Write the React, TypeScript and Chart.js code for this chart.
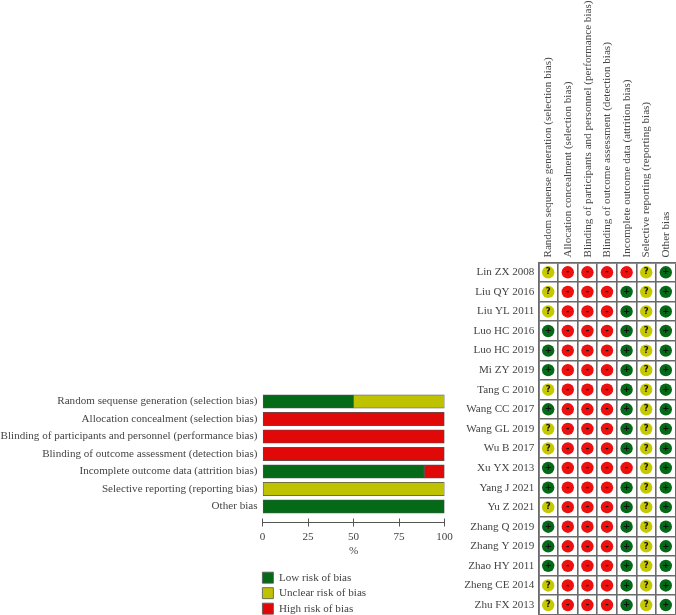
import React, { useEffect, useRef } from "react";
import { Chart, registerables } from "chart.js";

Chart.register(...registerables);

const domainLabels = [
  "Random sequense generation (selection bias)",
  "Allocation concealment (selection bias)",
  "Blinding of participants and personnel (performance bias)",
  "Blinding of outcome assessment (detection bias)",
  "Incomplete outcome data (attrition bias)",
  "Selective reporting (reporting bias)",
  "Other bias",
];
const lowRisk = [50, 0, 0, 0, 88.9, 0, 100];
const unclearRisk = [50, 0, 0, 0, 0, 100, 0];
const highRisk = [0, 100, 100, 100, 11.1, 0, 0];
const xTicks = [0, 25, 50, 75, 100];
const studies = [
  "Lin ZX 2008", "Liu QY 2016", "Liu YL 2011", "Luo HC 2016", "Luo HC 2019", "Mi ZY 2019",
  "Tang C 2010", "Wang CC 2017", "Wang GL 2019", "Wu B 2017", "Xu YX 2013", "Yang J 2021",
  "Yu Z 2021", "Zhang Q 2019", "Zhang Y 2019", "Zhao HY 2011", "Zheng CE 2014", "Zhu FX 2013",
];
// one string per study, one symbol per domain
const ratings = [
  "?----?+", "?---+?+", "?---+?+", "+---+?+", "+---+?+", "+---+?+",
  "?---+?+", "+---+?+", "?---+?+", "?---+?+", "+----?+", "+---+?+",
  "?---+?+", "+---+?+", "+---+?+", "+---+?+", "?---+?+", "?---+?+",
];

const FONT = "'Liberation Serif'";
const TEXT = "#444444";
const GREEN = "#056a17";
const YELLOW = "#bfc200";
const RED = "#e10808";
const DOT_RED = "#ee0f0f";
const DOT_YELLOW = "#c6c800";
const LINE = "#555555";
const GRID = "#6a6a6a";

const AXIS_AT = 6.886;

function pointsFor(symbol: string) {
  const out: { x: string; y: string }[] = [];
  ratings.forEach((row, r) => {
    row.split("").forEach((s, c) => {
      if (s === symbol) out.push({ x: domainLabels[c], y: studies[r] });
    });
  });
  return out;
}

const placeLegend = {
  id: "placeLegend",
  afterLayout(chart: any) {
    const l = chart.legend;
    if (!l) return;
    const w = l.width;
    const h = l.height;
    l.left = 258;
    l.top = 567.7;
    l.right = l.left + w;
    l.bottom = l.top + h;
    l.adjustHitBoxes();
  },
};

const glyphs = {
  id: "glyphs",
  afterDatasetsDraw(chart: any) {
    const ctx = chart.ctx;
    ctx.save();
    ctx.fillStyle = "#111";
    ctx.textAlign = "center";
    ctx.textBaseline = "middle";
    ctx.font = "bold 8.5px 'DejaVu Sans'";
    chart.data.datasets.forEach((ds: any, i: number) => {
      chart.getDatasetMeta(i).data.forEach((el: any) => {
        ctx.fillText(ds.label, el.x, el.y);
      });
    });
    ctx.restore();
  },
};

export default function App() {
  const barRef = useRef<HTMLCanvasElement>(null);
  const gridRef = useRef<HTMLCanvasElement>(null);

  useEffect(() => {
    const font = { family: FONT, size: 11.1 };
    const barChart = new Chart(barRef.current as HTMLCanvasElement, {
      type: "bar",
      plugins: [placeLegend],
      data: {
        labels: domainLabels,
        datasets: [
          { label: "Low risk of bias", data: lowRisk, backgroundColor: GREEN },
          { label: "Unclear risk of bias", data: unclearRisk, backgroundColor: YELLOW },
          { label: "High risk of bias", data: highRisk, backgroundColor: RED },
        ].map((d) => ({ ...d, borderColor: LINE, borderWidth: 0.8, barThickness: 13.5, borderSkipped: false })),
      },
      options: {
        indexAxis: "y",
        responsive: false,
        animation: false,
        layout: { autoPadding: false, padding: { left: 0, right: 231.5, top: 392.75, bottom: 99.75 } },
        plugins: {
          tooltip: { enabled: false },
          legend: {
            position: "chartArea",
            align: "start",
            labels: { boxWidth: 11, boxHeight: 11, padding: 4.4, color: TEXT, font },
          },
        },
        scales: {
          y: {
            stacked: true,
            grid: { display: false, drawTicks: false },
            border: { display: false },
            ticks: { color: TEXT, font, padding: 5, autoSkip: false },
            afterFit: (s: any) => { s.width = 262.5; s.paddingTop = 0; s.paddingBottom = 0; },
          },
          x: {
            stacked: true,
            min: 0,
            max: 100,
            position: { y: AXIS_AT },
            afterBuildTicks: (s: any) => { s.ticks = xTicks.map((value) => ({ value })); },
            grid: { drawOnChartArea: false, tickLength: 3.5, color: LINE, lineWidth: 1 },
            border: { color: LINE, width: 1 },
            ticks: { color: TEXT, font, padding: 4.5, maxRotation: 0 },
            title: { display: true, text: "%", color: TEXT, font, padding: { top: -3, bottom: 0 } },
          },
          xUp: {
            axis: "x",
            min: 0,
            max: 100,
            position: { y: AXIS_AT },
            afterBuildTicks: (s: any) => { s.ticks = xTicks.map((value) => ({ value })); },
            grid: { drawOnChartArea: false, tickLength: -3.5, color: LINE, lineWidth: 1 },
            border: { display: false },
            ticks: { display: false },
          },
        },
      } as any,
    });

    const dot = (label: string, color: string) => ({
      label,
      backgroundColor: color,
      borderWidth: 0,
      pointRadius: 6.2,
    });
    const gridChart = new Chart(gridRef.current as HTMLCanvasElement, {
      type: "scatter",
      plugins: [glyphs],
      data: {
        datasets: [dot("+", GREEN), dot("?", DOT_YELLOW), dot("-", DOT_RED)].map((d) => ({
          ...d,
          data: pointsFor(d.label),
        })),
      },
      options: {
        responsive: false,
        animation: false,
        layout: { autoPadding: false, padding: { left: 0, right: 0.4, top: 0, bottom: 0.2 } },
        plugins: { legend: { display: false }, tooltip: { enabled: false } },
        scales: {
          x: {
            type: "category",
            position: "top",
            labels: domainLabels,
            offset: true,
            grid: { offset: true, color: GRID, lineWidth: 1.6, drawTicks: false },
            border: { color: GRID, width: 1.6 },
            ticks: { color: TEXT, font, padding: 5, minRotation: 90, maxRotation: 90, autoSkip: false, labelOffset: 13.5 },
            afterFit: (s: any) => { s.height = 262.5; s.paddingLeft = 0; s.paddingRight = 0; },
          },
          y: {
            type: "category",
            labels: studies,
            offset: true,
            grid: { offset: true, color: GRID, lineWidth: 1.6, drawTicks: false },
            border: { color: GRID, width: 1.6 },
            ticks: { color: TEXT, font, padding: 4, autoSkip: false },
            afterFit: (s: any) => { s.width = 538.4; s.paddingTop = 0; s.paddingBottom = 0; },
          },
        },
      } as any,
    });

    return () => {
      barChart.destroy();
      gridChart.destroy();
    };
  }, []);

  const style: React.CSSProperties = { position: "absolute", left: 0, top: 0 };
  return (
    <div style={{ position: "fixed", left: 0, top: 0, width: 676, height: 615, background: "#fff", overflow: "hidden" }}>
      <canvas ref={barRef} width={676} height={615} style={style} />
      <canvas ref={gridRef} width={676} height={615} style={style} />
    </div>
  );
}
